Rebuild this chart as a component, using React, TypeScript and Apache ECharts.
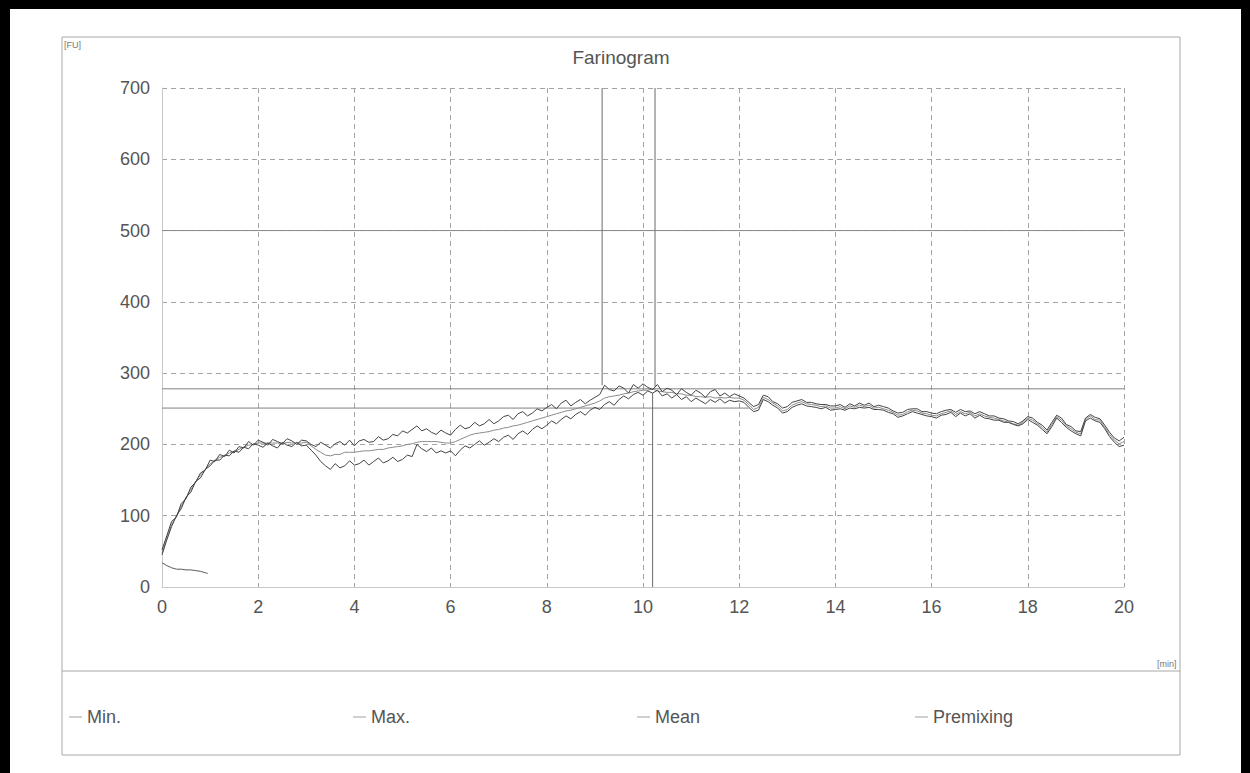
import React, { useEffect, useRef } from "react";
import * as echarts from "echarts";

// sampling step of the curves (minutes)
const TIME_STEP = 0.1;

// Max curve, one row per minute (t = k.0 ... k.9), last value at 20.0
const MAX_FU = [
  52, 72, 92, 98, 117, 124, 140, 147, 160, 164,
  178, 176, 186, 183, 192, 188, 197, 195, 204, 199,
  206, 203, 199, 207, 204, 201, 208, 205, 200, 206,
  205, 200, 197, 203, 199, 195, 201, 204, 199, 206,
  198, 205, 207, 203, 204, 211, 206, 208, 214, 212,
  219, 216, 221, 226, 219, 222, 217, 214, 220, 216,
  213, 221, 227, 222, 224, 231, 226, 229, 235, 229,
  233, 239, 241, 235, 243, 246, 240, 244, 250, 247,
  252, 256, 250, 258, 262, 254, 259, 263, 257, 262,
  266, 270, 283, 277, 275, 282, 279, 272, 284, 279,
  285, 280, 277, 284, 274, 279, 276, 270, 278, 273,
  269, 276, 272, 266, 274, 277, 268, 272, 267, 271,
  268, 265, 259, 253, 256, 269, 267, 260, 257, 251,
  253, 259, 261, 263, 259, 259, 257, 256, 256, 254,
  254, 256, 252, 257, 254, 258, 255, 258, 253, 255,
  253, 251, 247, 244, 245, 249, 250, 250, 246, 246,
  244, 243, 246, 248, 249, 245, 249, 246, 247, 243,
  246, 243, 240, 240, 237, 236, 233, 232, 229, 233,
  239, 237, 231, 227, 220, 231, 241, 237, 228, 225,
  219, 218, 237, 242, 238, 236, 227, 217, 209, 205,
  210,
];

const MIN_FU = [
  45, 66, 85, 100, 110, 126, 133, 148, 153, 165,
  170, 178, 178, 185, 184, 191, 189, 196, 194, 201,
  199, 196, 202, 198, 195, 203, 199, 197, 203, 198,
  199, 192, 185, 176, 170, 165, 173, 167, 170, 177,
  171, 173, 178, 171, 176, 181, 174, 177, 182, 176,
  179, 185, 183, 200, 194, 190, 195, 188, 191, 188,
  191, 184, 192, 198, 195, 200, 205, 199, 203, 208,
  204, 210, 213, 207, 215, 219, 214, 221, 226, 222,
  227, 233, 229, 235, 240, 236, 242, 246, 241, 248,
  252, 249, 256, 260, 255, 263, 268, 264, 270, 273,
  269, 275, 272, 276, 268, 271, 265, 270, 263, 267,
  260, 265, 261, 257, 263, 259, 264, 258, 262, 260,
  261, 259, 252, 246, 248, 263, 260, 255, 251, 244,
  246, 252, 255, 257, 254, 253, 252, 250, 252, 248,
  249, 250, 248, 251, 250, 252, 251, 252, 249, 249,
  248, 245, 243, 238, 240, 243, 246, 244, 242, 240,
  239, 237, 241, 242, 245, 239, 244, 240, 243, 237,
  241, 237, 236, 234, 234, 231, 231, 228, 226, 229,
  235, 231, 227, 221, 215, 225, 237, 231, 224, 219,
  215, 212, 233, 237, 233, 231, 222, 211, 203, 197,
  199,
];

const MEAN_FU = [
  48, 69, 88, 99, 113, 125, 137, 148, 157, 165,
  173, 177, 182, 184, 188, 190, 193, 196, 199, 200,
  202, 202, 202, 202, 202, 201, 203, 202, 202, 202,
  203, 198, 193, 189, 185, 184, 186, 186, 189, 189,
  189, 190, 191, 191, 192, 193, 193, 195, 196, 197,
  198, 200, 201, 203, 204, 204, 204, 204, 203, 202,
  202, 204, 207, 210, 213, 215, 216, 217, 218, 220,
  221, 223, 224, 226, 227, 229, 231, 233, 235, 237,
  239, 241, 243, 245, 247, 248, 250, 252, 254, 256,
  258, 261, 265, 267, 268, 269, 271, 272, 274, 275,
  276, 276, 278, 275, 274, 273, 273, 271, 271, 269,
  269, 267, 267, 266, 267, 265, 266, 265, 266, 265,
  265, 262, 256, 249, 252, 266, 263, 258, 254, 247,
  249, 255, 258, 260, 257, 256, 255, 253, 254, 251,
  251, 253, 250, 254, 252, 255, 253, 255, 251, 252,
  250, 248, 245, 241, 242, 246, 248, 247, 244, 243,
  241, 240, 243, 245, 247, 242, 246, 243, 245, 240,
  243, 240, 238, 237, 235, 233, 231, 229, 227, 231,
  237, 234, 229, 224, 217, 228, 239, 234, 226, 222,
  217, 215, 235, 240, 235, 234, 224, 214, 206, 201,
  204,
];

// premixing curve: [min, FU]
const PREMIX = [
  [0, 34], [0.1, 30], [0.2, 27], [0.3, 25], [0.4, 25], [0.5, 24],
  [0.6, 24], [0.7, 23], [0.8, 22], [0.9, 20], [0.95, 19],
];

// marker lines of the evaluation
const H_MARKS = [
  { fu: 278, from: 0, to: 20 },
  { fu: 251, from: 0, to: 12.2 },
  { fu: 500, from: 0, to: 20 },
];
const V_MARKS = [
  { t: 9.15, from: 283, to: 700 },
  { t: 10.25, from: 281, to: 700 },
  { t: 10.2, from: 0, to: 272 },
];

const Y_TICKS = [0, 100, 200, 300, 400, 500, 600, 700];
const X_TICKS = [0, 2, 4, 6, 8, 10, 12, 14, 16, 18, 20];
const LEGEND_NAMES = ["Min.", "Max.", "Mean", "Premixing"];

const toPairs = (arr: number[]) =>
  arr.map((v, i) => [Number((i * TIME_STEP).toFixed(2)), v]);

export default function App() {
  const ref = useRef<HTMLDivElement>(null);

  useEffect(() => {
    if (!ref.current) return;
    const chart = echarts.init(ref.current, undefined, { renderer: "svg" });
    const font = "'Liberation Sans', Arial, sans-serif";
    const textColor = "#555";
    const gridLine = { show: true, lineStyle: { color: "#a4a4a4", type: [5, 4], width: 1 } };

    const markSeries: any[] = [];
    H_MARKS.forEach((m, i) =>
      markSeries.push({
        name: "h" + i,
        type: "line",
        data: [[m.from, m.fu], [m.to, m.fu]],
        showSymbol: false,
        silent: true,
        lineStyle: { color: m.fu === 500 ? "#8a8a8a" : "#808080", width: 1 },
        z: 1,
      })
    );
    V_MARKS.forEach((m, i) =>
      markSeries.push({
        name: "v" + i,
        type: "line",
        data: [[m.t, m.from], [m.t, m.to]],
        showSymbol: false,
        silent: true,
        lineStyle: { color: "#6a6a6a", width: 1 },
        z: 1,
      })
    );

    const legends = [
      { name: LEGEND_NAMES[0], left: 64 },
      { name: LEGEND_NAMES[1], left: 348 },
      { name: LEGEND_NAMES[2], left: 632 },
      { name: LEGEND_NAMES[3], left: 910 },
    ].map((l) => ({
      data: [l.name],
      left: l.left,
      top: 703,
      icon: "rect",
      itemWidth: 13,
      itemHeight: 1,
      textStyle: { fontSize: 18, color: textColor, fontFamily: font },
      itemStyle: { color: "#a0a0a0" },
      selectedMode: false,
    }));

    chart.setOption({
      animation: false,
      backgroundColor: "#ffffff",
      textStyle: { fontFamily: font },
      grid: { left: 162, right: 126, top: 88, bottom: 186 },
      legend: legends,
      xAxis: {
        type: "value",
        min: X_TICKS[0],
        max: X_TICKS[X_TICKS.length - 1],
        interval: 2,
        axisLine: { show: true, lineStyle: { color: "#c8c8c8" } },
        axisTick: { show: false },
        axisLabel: { fontSize: 18, color: textColor, margin: 11, fontFamily: font },
        splitLine: gridLine,
      },
      yAxis: {
        type: "value",
        min: Y_TICKS[0],
        max: Y_TICKS[Y_TICKS.length - 1],
        interval: 100,
        axisLine: { show: true, lineStyle: { color: "#c8c8c8" } },
        axisTick: { show: false },
        axisLabel: { fontSize: 18, color: textColor, margin: 12, fontFamily: font },
        splitLine: gridLine,
      },
      graphic: [
        { type: "rect", shape: { x: 0, y: 0, width: 1250, height: 9 }, style: { fill: "#000" } },
        { type: "rect", shape: { x: 0, y: 0, width: 10, height: 773 }, style: { fill: "#000" } },
        { type: "rect", shape: { x: 1241, y: 0, width: 9, height: 773 }, style: { fill: "#000" } },
        {
          type: "rect",
          shape: { x: 62, y: 37, width: 1118, height: 718 },
          style: { fill: "none", stroke: "#a8a8a8", lineWidth: 1 },
          silent: true,
        },
        {
          type: "line",
          shape: { x1: 62, y1: 671, x2: 1180, y2: 671 },
          style: { stroke: "#a8a8a8", lineWidth: 1 },
        },
        {
          type: "text",
          x: 64,
          y: 40,
          style: { text: "[FU]", fontSize: 9, fill: "#777", fontFamily: font },
        },
        {
          type: "text",
          x: 1157,
          y: 659,
          style: { text: "[min]", fontSize: 9, fill: "#777", fontFamily: font },
        },
        {
          type: "text",
          x: 621,
          y: 57,
          style: {
            text: "Farinogram",
            fontSize: 19,
            fill: textColor,
            fontFamily: font,
            align: "center",
            verticalAlign: "middle",
          },
        },
      ],
      series: [
        ...markSeries,
        {
          name: "Premixing",
          type: "line",
          data: PREMIX,
          showSymbol: false,
          lineStyle: { color: "#5a5a5a", width: 1 },
          color: "#a0a0a0",
          z: 3,
        },
        {
          name: "Mean",
          type: "line",
          data: toPairs(MEAN_FU),
          showSymbol: false,
          lineStyle: { color: "#8c8c8c", width: 1 },
          color: "#a0a0a0",
          z: 3,
        },
        {
          name: "Min.",
          type: "line",
          data: toPairs(MIN_FU),
          showSymbol: false,
          lineStyle: { color: "#444", width: 1 },
          color: "#a0a0a0",
          z: 4,
        },
        {
          name: "Max.",
          type: "line",
          data: toPairs(MAX_FU),
          showSymbol: false,
          lineStyle: { color: "#444", width: 1 },
          color: "#a0a0a0",
          z: 4,
        },
      ],
    });
    return () => chart.dispose();
  }, []);

  return (
    <div
      ref={ref}
      style={{ position: "fixed", left: 0, top: 0, width: 1250, height: 773, background: "#fff" }}
    />
  );
}
